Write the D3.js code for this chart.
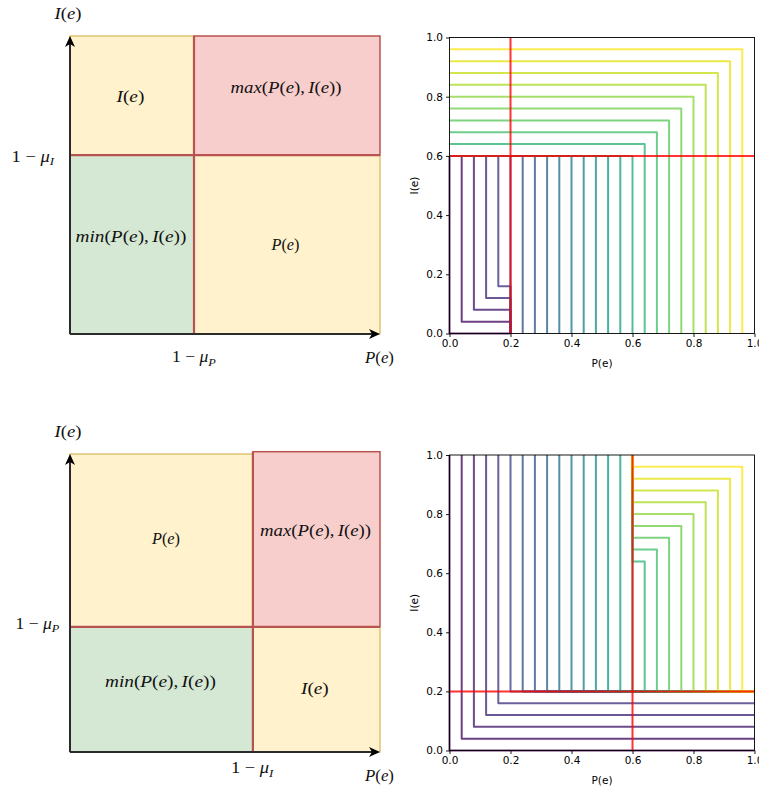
<!DOCTYPE html>
<html><head><meta charset="utf-8">
<script src="https://cdn.jsdelivr.net/npm/d3@7"></script>
<style>body{margin:0;background:#fff;} svg{display:block;}</style>
</head><body>
<svg id="chart" width="759" height="789"></svg>
<script>
// ---------------- data ----------------
const contourLevels = [0.00,0.04,0.08,0.12,0.16,0.20,0.24,0.28,0.32,0.36,0.40,0.44,0.48,
                       0.52,0.56,0.60,0.64,0.68,0.72,0.76,0.80,0.84,0.88,0.92,0.96];
const tickValues = [0.0,0.2,0.4,0.6,0.8,1.0];
// thresholds of the contour panels [P threshold, I threshold]
const topThresholds = [0.2, 0.6];
const bottomThresholds = [0.6, 0.2];
// split points of the schematic diagrams [x split, y split]
const topDiagramSplit = [0.4, 0.6];
const bottomDiagramSplit = [0.59, 0.42];
// region labels: top-left, top-right, bottom-left, bottom-right
const topRegionLabels = ["I(e)", "max(P(e),I(e))", "min(P(e),I(e))", "P(e)"];
const bottomRegionLabels = ["P(e)", "max(P(e),I(e))", "min(P(e),I(e))", "I(e)"];
const topAxisTicks = ["1 − μ|P", "1 − μ|I"];     // [x tick, y tick]
const bottomAxisTicks = ["1 − μ|I", "1 − μ|P"];
const axisNames = ["P(e)", "I(e)"];

// ---------------- helpers ----------------
const svg = d3.select("#chart");
const SERIF = "'Liberation Serif', 'DejaVu Serif', serif";

// LaTeX-like math text: letters italic, punctuation upright; "|X" = subscript
function mathText(parent, str, cx, cy, size, width) {
  const g = parent.append("g");
  const t = g.append("text").attr("font-family", SERIF).attr("font-size", size)
    .attr("fill", "#111").attr("x", 0).attr("y", 0);
  const [main, sub] = str.split("|");
  let prev = null;
  for (const ch of main) {
    const isLetter = /[A-Za-zμ]/.test(ch);
    const ts = t.append("tspan").text(ch).attr("font-style", isLetter ? "italic" : "normal");
    if (prev === ",") ts.attr("dx", size * 0.17);
    prev = ch;
  }
  if (sub) {
    t.append("tspan").text(sub).attr("font-style", "italic")
      .attr("font-size", size * 0.7).attr("dy", size * 0.22);
  }
  const bb = t.node().getBBox();
  const sx = width ? width / bb.width : 1;
  t.attr("x", -bb.width / 2);
  g.attr("transform", `translate(${cx},${cy + size * 0.28}) scale(${sx},1)`);
  return g;
}

// ---------------- schematic diagrams ----------------
function drawDiagram(yRange, split, labels, ticks, opts) {
  const xs = d3.scaleLinear([0, 1], [70, 380]);
  const ys = d3.scaleLinear([0, 1], yRange);
  const g = svg.append("g");
  const [sx, sy] = split;
  const yellow = {fill: "#fff2cc", stroke: "#d6b656"};
  const regions = [
    {x0: 0, x1: sx, y0: sy, y1: 1, c: yellow},
    {x0: sx, x1: 1, y0: sy, y1: 1, c: {fill: "#f8cecc", stroke: "#b85450"}, red: true},
    {x0: 0, x1: sx, y0: 0, y1: sy, c: {fill: "#d5e8d4", stroke: "#82b366"}},
    {x0: sx, x1: 1, y0: 0, y1: sy, c: yellow}
  ];
  regions.forEach(r => {
    const top = ys(r.y1) - (r.red ? opts.redRaise : 0);
    g.append("rect")
      .attr("x", xs(r.x0)).attr("y", top)
      .attr("width", xs(r.x1) - xs(r.x0)).attr("height", ys(r.y0) - top)
      .attr("fill", r.c.fill).attr("stroke", r.c.stroke)
      .attr("stroke-width", r.red ? 1.5 : 1.2);
  });
  // division lines
  g.append("line").attr("x1", xs(sx)).attr("x2", xs(sx))
    .attr("y1", ys(0)).attr("y2", ys(1) - opts.redRaise)
    .attr("stroke", "#b85450").attr("stroke-width", 2.2);
  g.append("line").attr("x1", xs(0)).attr("x2", xs(1))
    .attr("y1", ys(sy)).attr("y2", ys(sy))
    .attr("stroke", "#b85450").attr("stroke-width", 2.2);
  // axes with arrows
  const ax = "#2b2b2b";
  g.append("line").attr("x1", xs(0)).attr("x2", xs(1) - 6).attr("y1", ys(0)).attr("y2", ys(0))
    .attr("stroke", ax).attr("stroke-width", 2);
  g.append("line").attr("x1", xs(0)).attr("x2", xs(0)).attr("y1", ys(0)).attr("y2", ys(1) + 6)
    .attr("stroke", ax).attr("stroke-width", 2);
  const tx = xs(1), ty = ys(0);
  g.append("path").attr("d", `M${tx},${ty} L${tx - 11},${ty - 5} L${tx - 8},${ty} L${tx - 11},${ty + 5} Z`).attr("fill", "#000");
  const ux = xs(0), uy = ys(1);
  g.append("path").attr("d", `M${ux},${uy} L${ux - 5},${uy + 11} L${ux},${uy + 8} L${ux + 5},${uy + 11} Z`).attr("fill", "#000");

  // region labels
  const centers = regions.map(r => [
    (xs(r.x0) + xs(r.x1)) / 2,
    ((ys(r.y1) - (r.red ? opts.redRaise : 0)) + ys(r.y0)) / 2
  ]);
  labels.forEach((lab, i) => {
    const long = lab.length > 5;
    const nudge = opts.nudges[i];
    mathText(g, lab, centers[i][0] + nudge[0], centers[i][1] + nudge[1], 16.5, long ? 111 : 29);
  });
  // tick labels
  mathText(g, ticks[0], xs(sx), ys(0) + opts.xTickDy, 16, 44);
  mathText(g, ticks[1], opts.yTickX, ys(sy) + opts.yTickDy, 16, 44);
  // axis names
  mathText(g, axisNames[0], xs(1), ys(0) + opts.xNameDy, 16.5, 30);
  mathText(g, axisNames[1], 68.5, ys(1) + opts.yNameDy, 16.5, 28);
}

drawDiagram([334, 36], topDiagramSplit, topRegionLabels, topAxisTicks, {
  redRaise: 0, nudges: [[-1, 1.5], [-1, -7.5], [-1, -7.5], [-1, 0.5]],
  xTickDy: 23.5, yTickX: 33.5, yTickDy: 2, xNameDy: 24, yNameDy: -22
});
drawDiagram([752, 454], bottomDiagramSplit, bottomRegionLabels, bottomAxisTicks, {
  redRaise: 2.3, nudges: [[5, -1], [-1, -8], [-1, -7], [-1, 0]],
  xTickDy: 17, yTickX: 37.5, yTickDy: -2.5, xNameDy: 24, yNameDy: -22
});

// ---------------- contour panels ----------------
const viridis = d3.scaleSequential(d3.interpolateViridis)
  .domain([d3.min(contourLevels), d3.max(contourLevels)]);

// level-set boundaries of the piecewise fusion functions
function topContour(c, [a, b]) {      // P region: P>=a & I<b, I region: P<a & I>=b
  if (c < a) return [[0, b], [c, b], [c, c], [a, c], [a, 0]];
  if (c < b) return [[0, b], [c, b], [c, 0]];
  return [[0, c], [c, c], [c, 0]];
}
function bottomContour(c, [a, b]) {   // P region: P<a & I>=b, I region: P>=a & I<b
  if (c < b) return [[c, 1], [c, c], [1, c]];
  if (c < a) return [[c, 1], [c, b], [1, b]];
  return [[a, 1], [a, c], [c, c], [c, b], [1, b]];
}

function drawPanel(yRange, thresholds, contourFn) {
  const x = d3.scaleLinear([0, 1], [449.5, 754.5]);
  const y = d3.scaleLinear([0, 1], yRange);
  const g = svg.append("g");
  const line = d3.line().x(d => x(d[0])).y(d => y(d[1]));
  contourLevels.forEach(c => {
    g.append("path").attr("d", line(contourFn(c, thresholds)))
      .attr("fill", "none").attr("stroke", viridis(c))
      .attr("stroke-width", 2).attr("stroke-opacity", 0.8)
      .attr("stroke-linejoin", "round");
  });
  // threshold lines
  g.append("path").attr("d", line([[thresholds[0], 0], [thresholds[0], 1]]))
    .attr("stroke", "#ff0000").attr("stroke-opacity", 0.8).attr("stroke-width", 2);
  g.append("path").attr("d", line([[0, thresholds[1]], [1, thresholds[1]]]))
    .attr("stroke", "#ff0000").attr("stroke-opacity", 0.8).attr("stroke-width", 2);
  // spines
  g.append("rect").attr("x", x(0)).attr("y", y(1))
    .attr("width", x(1) - x(0)).attr("height", y(0) - y(1))
    .attr("fill", "none").attr("stroke", "#000").attr("stroke-width", 0.9);
  // axes
  const fmt = d3.format(".1f");
  const xa = g.append("g").attr("transform", `translate(0,${y(0)})`)
    .call(d3.axisBottom(x).tickValues(tickValues).tickFormat(fmt).tickSize(3.5).tickPadding(3));
  const ya = g.append("g").attr("transform", `translate(${x(0)},0)`)
    .call(d3.axisLeft(y).tickValues(tickValues).tickFormat(fmt).tickSize(3.5).tickPadding(3));
  [xa, ya].forEach(a => {
    a.select(".domain").remove();
    a.selectAll("line").attr("stroke", "#000").attr("stroke-width", 0.9);
    a.selectAll("text").attr("font-family", "'DejaVu Sans', sans-serif")
      .attr("font-size", 10.5).attr("fill", "#000");
  });
  g.append("text").attr("x", (x(0) + x(1)) / 2).attr("y", y(0) + 33)
    .attr("text-anchor", "middle").attr("font-family", "'DejaVu Sans', sans-serif")
    .attr("font-size", 10.5).text(axisNames[0]);
  g.append("text").attr("transform", `translate(${x(0) - 32},${(y(0) + y(1)) / 2}) rotate(-90)`)
    .attr("text-anchor", "middle").attr("font-family", "'DejaVu Sans', sans-serif")
    .attr("font-size", 10.5).text("I(e)");
}

drawPanel([333.5, 37.5], topThresholds, topContour);
drawPanel([750.5, 455], bottomThresholds, bottomContour);
</script>
</body></html>
